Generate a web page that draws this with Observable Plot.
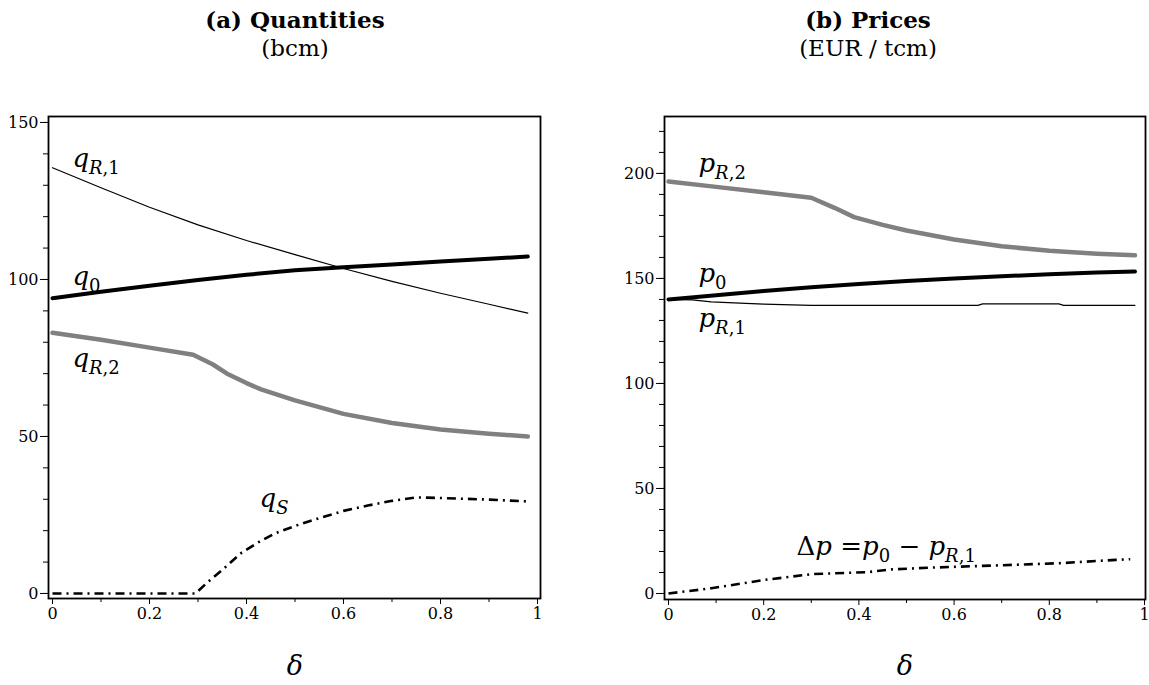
<!DOCTYPE html>
<html>
<head>
<meta charset="utf-8">
<script src="https://cdn.jsdelivr.net/npm/d3@7"></script>
<script src="https://cdn.jsdelivr.net/npm/@observablehq/plot@0.6"></script>
<style>
  body { margin: 0; background: #fff; }
  #wrap { position: relative; width: 1149px; height: 685px; overflow: hidden; color: #000; }
  .panel { position: absolute; top: 0; }
  .title { position: absolute; font-weight: bold; font-size: 23px; transform: translateX(-50%); white-space: nowrap; line-height: 1; }
  .sub { position: absolute; font-size: 23px; transform: translateX(-50%); white-space: nowrap; line-height: 1; }
  .dl { position: absolute; font-size: 27px; font-style: italic; transform: translateX(-50%); line-height: 1; }
</style>
</head>
<body>
<div id="wrap">
  <div id="left" class="panel" style="left:0px"></div>
  <div id="right" class="panel" style="left:575px"></div>
  <div class="title" style="left:295px;top:8px;font-family:DejaVu Serif">(a) Quantities</div>
  <div class="sub" style="left:295px;top:37px;font-family:DejaVu Serif">(bcm)</div>
  <div class="title" style="left:868px;top:8px;font-family:DejaVu Serif">(b) Prices</div>
  <div class="sub" style="left:868px;top:37px;font-family:DejaVu Serif">(EUR / tcm)</div>
  <div class="dl" style="left:295px;top:652px;font-family:DejaVu Serif">δ</div>
  <div class="dl" style="left:905px;top:652px;font-family:DejaVu Serif">δ</div>
</div>
<script>
// ---------- Data ----------
const deltaGrid = [0, 0.1, 0.2, 0.3, 0.4, 0.5, 0.6, 0.7, 0.8, 0.9, 0.98];

// Panel (a) Quantities (bcm)
const qR1 = [135.6, 129.2, 123.0, 117.4, 112.4, 107.9, 103.5, 99.4, 95.6, 92.1, 89.3];
const q0  = [94.0, 96.1, 98.0, 99.8, 101.5, 102.9, 103.9, 104.8, 105.7, 106.6, 107.3];
const qR2Delta = [0, 0.1, 0.2, 0.29, 0.33, 0.36, 0.4, 0.43, 0.5, 0.6, 0.7, 0.8, 0.9, 0.98];
const qR2      = [83.0, 80.8, 78.3, 76.0, 73.0, 70.0, 67.0, 65.0, 61.5, 57.2, 54.3, 52.2, 50.9, 50.0];
const qSDelta = [0, 0.295, 0.32, 0.35, 0.39, 0.43, 0.46, 0.5, 0.55, 0.6, 0.65, 0.7, 0.75, 0.8, 0.9, 0.98];
const qS      = [0, 0, 3.6, 7.5, 13.0, 16.8, 19.2, 21.5, 24.0, 26.3, 28.0, 29.5, 30.6, 30.4, 29.9, 29.3];

// Panel (b) Prices (EUR / tcm)
const pR2Delta = [0, 0.1, 0.2, 0.3, 0.35, 0.39, 0.45, 0.5, 0.6, 0.7, 0.8, 0.9, 0.98];
const pR2      = [196.2, 193.6, 191.0, 188.4, 183.5, 179.2, 175.5, 172.8, 168.5, 165.3, 163.2, 161.8, 161.0];
const p0  = [140.0, 142.0, 144.0, 145.8, 147.4, 148.8, 150.0, 151.0, 152.0, 152.8, 153.3];
const pR1Delta = [0, 0.05, 0.09, 0.15, 0.2, 0.3, 0.65, 0.66, 0.82, 0.83, 0.98];
const pR1      = [140.0, 139.8, 138.8, 138.2, 137.8, 137.2, 137.2, 137.9, 137.9, 137.2, 137.2];
const dpDelta = [0, 0.09, 0.2, 0.3, 0.42, 0.47, 0.55, 0.68, 0.82, 0.94, 0.97];
const dp      = [0, 2.5, 6.4, 9.2, 10.2, 11.5, 12.3, 13.3, 14.4, 16.0, 16.3];

// Tick values / labels
const deltaTicksMajor = [0, 0.2, 0.4, 0.6, 0.8, 1];
const deltaTickLabels = ["0", "0.2", "0.4", "0.6", "0.8", "1"];
const deltaTicksMinor = [0.1, 0.3, 0.5, 0.7, 0.9];
const qTicksMajor = [0, 50, 100, 150];
const qTicksMinor = d3.range(0, 151, 10);
const pTicksMajor = [0, 50, 100, 150, 200];
const pTicksMinor = d3.range(0, 221, 10);

// Curve labels (delta, value at label baseline)
const qLabels = [
  {d: 0.041, v: 135.7, t: "q_{R,1}"},
  {d: 0.041, v: 98.1,  t: "q_{0}"},
  {d: 0.041, v: 72.0,  t: "q_{R,2}"},
  {d: 0.427, v: 27.4,  t: "q_{S}"}
];
const pLabels = [
  {d: 0.063, v: 200.5, t: "p_{R,2}"},
  {d: 0.063, v: 148.1, t: "p_{0}"},
  {d: 0.063, v: 126.7, t: "p_{R,1}"},
  {d: 0.269, v: 18.1,  t: "Δp =p_{0} − p_{R,1}"}
];

// ---------- Helpers ----------
const series = (xs, ys) => xs.map((d, i) => ({d, v: ys[i]}));
const SVGNS = "http://www.w3.org/2000/svg";
const FAM = "DejaVu Serif";

function mathify(svg) {
  svg.setAttribute("font-family", FAM);
  svg.querySelectorAll("g").forEach(g => { if (g.hasAttribute("font-family")) g.setAttribute("font-family", FAM); });
  svg.querySelectorAll("text").forEach(el => {
    el.setAttribute("font-family", FAM);
    const src = el.textContent;
    if (!src.includes("_{")) return;
    const parts = [];
    const re = /_\{([^}]*)\}/g;
    let last = 0, m;
    while ((m = re.exec(src))) {
      if (m.index > last) parts.push({s: src.slice(last, m.index), sub: false});
      parts.push({s: m[1], sub: true});
      last = re.lastIndex;
    }
    if (last < src.length) parts.push({s: src.slice(last), sub: false});
    while (el.firstChild) el.removeChild(el.firstChild);
    let shifted = false;
    parts.forEach(p => {
      const runs = p.s.match(/[A-Za-zδ]+|[^A-Za-zδ]+/g) || [];
      runs.forEach((r, j) => {
        const ts = document.createElementNS(SVGNS, "tspan");
        ts.textContent = r;
        if (/[A-Za-zδ]/.test(r[0])) ts.setAttribute("font-style", "italic");
        if (p.sub) ts.setAttribute("font-size", "18");
        if (j === 0) {
          if (p.sub && !shifted) { ts.setAttribute("dy", "7"); shifted = true; }
          else if (!p.sub && shifted) { ts.setAttribute("dy", "-7"); shifted = false; }
        }
        el.appendChild(ts);
      });
    });
  });
}

const styleStr = "font-family: DejaVu Serif; font-size: 16px; color: black; background: white; overflow: visible;";
const labelOpts = {x: "d", y: "v", text: "t", textAnchor: "start", lineAnchor: "bottom", fontSize: 26, fill: "black"};
const dashDot = "9,5,2,5";
const grey = "#808080";

// ---------- Panel (a) ----------
const left = Plot.plot({
  width: 575, height: 685,
  marginLeft: 48, marginRight: 35, marginTop: 116, marginBottom: 87,
  x: {domain: [-0.00825, 1.0062]},
  y: {domain: [-1.6, 151.9]},
  style: styleStr,
  marks: [
    Plot.axisY({ticks: qTicksMinor, tickSize: 5, tickFormat: () => "", label: null}),
    Plot.axisY({ticks: qTicksMajor, tickSize: 8, tickPadding: 2, label: null, fontSize: 16}),
    Plot.axisX({ticks: deltaTicksMinor, tickSize: 4, tickFormat: () => "", label: null}),
    Plot.axisX({ticks: deltaTicksMajor, tickSize: 6, tickPadding: 3, tickFormat: (d, i) => deltaTickLabels[i], label: null, fontSize: 16}),
    Plot.frame({stroke: "black", strokeWidth: 1.8}),
    Plot.line(series(qR2Delta, qR2), {x: "d", y: "v", stroke: grey, strokeWidth: 4.5}),
    Plot.line(series(deltaGrid, qR1), {x: "d", y: "v", stroke: "black", strokeWidth: 1.2}),
    Plot.line(series(deltaGrid, q0), {x: "d", y: "v", stroke: "black", strokeWidth: 4}),
    Plot.line(series(qSDelta, qS), {x: "d", y: "v", stroke: "black", strokeWidth: 2.6, strokeDasharray: dashDot, strokeLinecap: "butt"}),
    Plot.text(qLabels, labelOpts)
  ]
});
mathify(left);
document.getElementById("left").appendChild(left);

// ---------- Panel (b) ----------
const right = Plot.plot({
  width: 574, height: 685,
  marginLeft: 89, marginRight: 4, marginTop: 116, marginBottom: 86,
  x: {domain: [-0.00835, 1.0021]},
  y: {domain: [-2.86, 227.1]},
  style: styleStr,
  marks: [
    Plot.axisY({ticks: pTicksMinor, tickSize: 5, tickFormat: () => "", label: null}),
    Plot.axisY({ticks: pTicksMajor, tickSize: 8, tickPadding: 2, label: null, fontSize: 16}),
    Plot.axisX({ticks: deltaTicksMinor, tickSize: 4, tickFormat: () => "", label: null}),
    Plot.axisX({ticks: deltaTicksMajor, tickSize: 6, tickPadding: 3, tickFormat: (d, i) => deltaTickLabels[i], label: null, fontSize: 16}),
    Plot.frame({stroke: "black", strokeWidth: 1.8}),
    Plot.line(series(pR2Delta, pR2), {x: "d", y: "v", stroke: grey, strokeWidth: 4.5}),
    Plot.line(series(pR1Delta, pR1), {x: "d", y: "v", stroke: "black", strokeWidth: 1.2}),
    Plot.line(series(deltaGrid, p0), {x: "d", y: "v", stroke: "black", strokeWidth: 4}),
    Plot.line(series(dpDelta, dp), {x: "d", y: "v", stroke: "black", strokeWidth: 2.6, strokeDasharray: dashDot, strokeLinecap: "butt"}),
    Plot.text(pLabels, labelOpts)
  ]
});
mathify(right);
document.getElementById("right").appendChild(right);
</script>
</body>
</html>
